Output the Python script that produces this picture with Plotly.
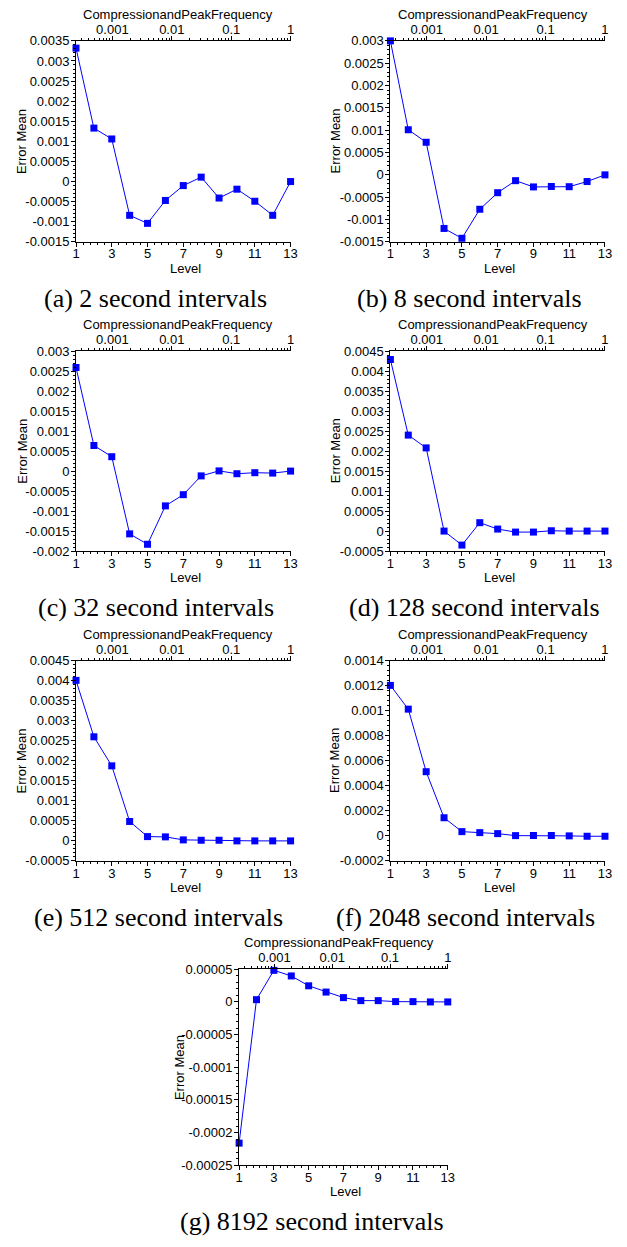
import numpy as np
import plotly.graph_objects as go

W, H = 627, 1247

levels = list(range(1, 14))
level_ticks = [1, 3, 5, 7, 9, 11, 13]
freq_ticks = [0.001, 0.01, 0.1, 1]
freq_tick_text = ["0.001", "0.01", "0.1", "1"]

err_2s = [0.00332, 0.00133, 0.00106, -0.00084, -0.00104, -0.00047, -0.0001,
          0.00011, -0.00041, -0.00019, -0.00049, -0.00084, 0.0]
err_8s = [0.0030, 0.00101, 0.00073, -0.00120, -0.00142, -0.00077, -0.00040,
          -0.00013, -0.00027, -0.00026, -0.000265, -0.00015, 0.0]
err_32s = [0.00259, 0.00064, 0.00036, -0.00157, -0.00183, -0.00087, -0.00059,
           -0.00012, 0.000005, -0.000066, -0.00004, -0.00005, 0.0]
err_128s = [0.00429, 0.00240, 0.00208, 0.0, -0.00035, 0.00021, 0.00005,
            -0.000025, -0.000025, 0.000008, 0.0, 0.0, 0.0]
err_512s = [0.00401, 0.00260, 0.001875, 0.000485, 0.000107, 0.0001, 0.000025,
            0.000016, 0.000016, 0.0, 0.0, 0.0, 0.0]
err_2048s = [0.001203, 0.001013, 0.000513, 0.000145, 0.000034, 0.000026, 0.000018,
             0.000002, 0.000003, 0.000003, 0.0, -0.000003, -0.000003]
err_8192s = [-0.0002162, 0.0000035, 0.0000484, 0.0000398, 0.0000247, 0.0000151,
             0.0000066, 0.000002, 0.000002, 0.0000005, 0.0000005, 0.0, 0.0]

captions = ["(a) 2 second intervals", "(b) 8 second intervals",
            "(c) 32 second intervals", "(d) 128 second intervals",
            "(e) 512 second intervals", "(f) 2048 second intervals",
            "(g) 8192 second intervals"]

series = [err_2s, err_8s, err_32s, err_128s, err_512s, err_2048s, err_8192s]

# y axis range (min, max, step) per panel
y_specs = [(-0.0015, 0.0035, 0.0005), (-0.0015, 0.003, 0.0005),
           (-0.002, 0.003, 0.0005), (-0.0005, 0.0045, 0.0005),
           (-0.0005, 0.0045, 0.0005), (-0.0002, 0.0014, 0.0002),
           (-0.00025, 0.00005, 0.00005)]

# plot-area boxes in pixels: left, right, top, bottom
boxes = [(73.3, 291.7, 34.3, 237.7), (393.3, 611.7, 34.3, 237.7),
         (73.3, 291.7, 348.3, 550.7), (393.3, 611.7, 348.3, 550.7),
         (73.3, 291.7, 661.7, 864.3), (393.3, 611.7, 661.7, 864.3),
         (239.3, 451.7, 974.0, 1172.3)]
caption_x = [154, 474, 155, 479, 157, 470, 314]
ylabel_x = [18, 337, 18, 337, 18, 337, 178]

BLUE = "#0000ff"
SANS = "Liberation Sans, Arial, sans-serif"
SERIF = "Liberation Serif, Times New Roman, serif"

def fmt(v):
    if abs(v) < 1e-12:
        return "0"
    return np.format_float_positional(round(v, 10), trim="-")

def px_x(p):
    return p / W

def px_y(p):
    return 1 - p / H

fig = go.Figure()
annotations = []
log_lo = np.log10(2.0 ** -12)
minor_log = [k * 10.0 ** d for d in range(-4, 0) for k in range(2, 10)
             if 10 ** log_lo <= k * 10.0 ** d <= 1]

for i, (vals, (ymin, ymax, step), (l, r, t, b)) in enumerate(zip(series, y_specs, boxes)):
    xb = 2 * i + 1
    xt = 2 * i + 2
    yi = i + 1
    xb_name = "x" if xb == 1 else f"x{xb}"
    xt_name = f"x{xt}"
    y_name = "y" if yi == 1 else f"y{yi}"

    fig.add_trace(go.Scatter(
        x=levels, y=vals, mode="lines+markers", xaxis=xb_name, yaxis=y_name,
        line=dict(color=BLUE, width=1),
        marker=dict(symbol="square", size=7, color=BLUE),
        cliponaxis=False, showlegend=False, hoverinfo="x+y"))
    freqs = [2.0 ** (lv - 13) for lv in levels]
    fig.add_trace(go.Scatter(
        x=freqs, y=vals, mode="markers", xaxis=xt_name, yaxis=y_name,
        marker=dict(opacity=0), showlegend=False, hoverinfo="skip"))

    nsteps = int(round((ymax - ymin) / step))
    yvals = [ymin + k * step for k in range(nsteps + 1)]
    ytext = [fmt(v) for v in yvals]

    dom_x = [px_x(l), px_x(r)]
    dom_y = [px_y(b), px_y(t)]
    tickfont = dict(family=SANS, size=13, color="black")

    fig.layout[f"xaxis{xb}"] = dict(
        domain=dom_x, anchor=y_name, range=[1, 13], tickmode="array",
        tickvals=level_ticks, ticktext=[str(v) for v in level_ticks],
        ticks="outside", ticklen=4, tickcolor="black", showline=True,
        linecolor="black", linewidth=1, showgrid=False, zeroline=False,
        tickfont=tickfont, mirror=False, ticklabelstandoff=-4,
        minor=dict(tick0=1, dtick=0.4, ticks="outside", ticklen=2,
                   tickcolor="black", showgrid=False))
    fig.layout[f"xaxis{xt}"] = dict(
        domain=dom_x, anchor=y_name, overlaying=xb_name, side="top",
        type="log", range=[log_lo, 0], tickmode="array", tickvals=freq_ticks,
        ticktext=freq_tick_text, ticks="outside", ticklen=4, tickcolor="black",
        showline=True, linecolor="black", linewidth=1, showgrid=False,
        zeroline=False, tickfont=tickfont, ticklabelstandoff=-3,
        minor=dict(tickmode="array", tickvals=minor_log, ticks="outside",
                   ticklen=2, tickcolor="black", showgrid=False))
    fig.layout[f"yaxis{yi}"] = dict(
        domain=dom_y, anchor=xb_name, range=[ymin, ymax], tickmode="array",
        tickvals=yvals, ticktext=ytext, ticks="outside", ticklen=4,
        tickcolor="black", showline=True, linecolor="black", linewidth=1,
        showgrid=False, zeroline=False, tickfont=tickfont,
        ticklabelstandoff=-1,
        minor=dict(tick0=ymin, dtick=step / 5, ticks="outside", ticklen=2,
                   tickcolor="black", showgrid=False))

    cx = (l + r) / 2
    cy = (t + b) / 2
    annotations.append(dict(text="CompressionandPeakFrequency", x=px_x(cx - 5),
                            y=px_y(t - 27), xref="paper", yref="paper",
                            showarrow=False, xanchor="center", yanchor="middle",
                            font=dict(family=SANS, size=13, color="black")))
    annotations.append(dict(text="Level", x=px_x(cx + 2), y=px_y(b + 27),
                            xref="paper", yref="paper", showarrow=False,
                            xanchor="center", yanchor="middle",
                            font=dict(family=SANS, size=13, color="black")))
    annotations.append(dict(text="Error Mean", x=px_x(ylabel_x[i]), y=px_y(cy),
                            xref="paper", yref="paper", showarrow=False,
                            textangle=-90, xanchor="center", yanchor="middle",
                            font=dict(family=SANS, size=13, color="black")))
    annotations.append(dict(text=captions[i], x=px_x(caption_x[i]), y=px_y(b + 57),
                            xref="paper", yref="paper", showarrow=False,
                            xanchor="center", yanchor="middle",
                            font=dict(family=SERIF, size=26, color="black")))

fig.update_layout(width=W, height=H, margin=dict(l=0, r=0, t=0, b=0),
                  paper_bgcolor="white", plot_bgcolor="white",
                  annotations=annotations, showlegend=False)

fig.write_html("out.html")
